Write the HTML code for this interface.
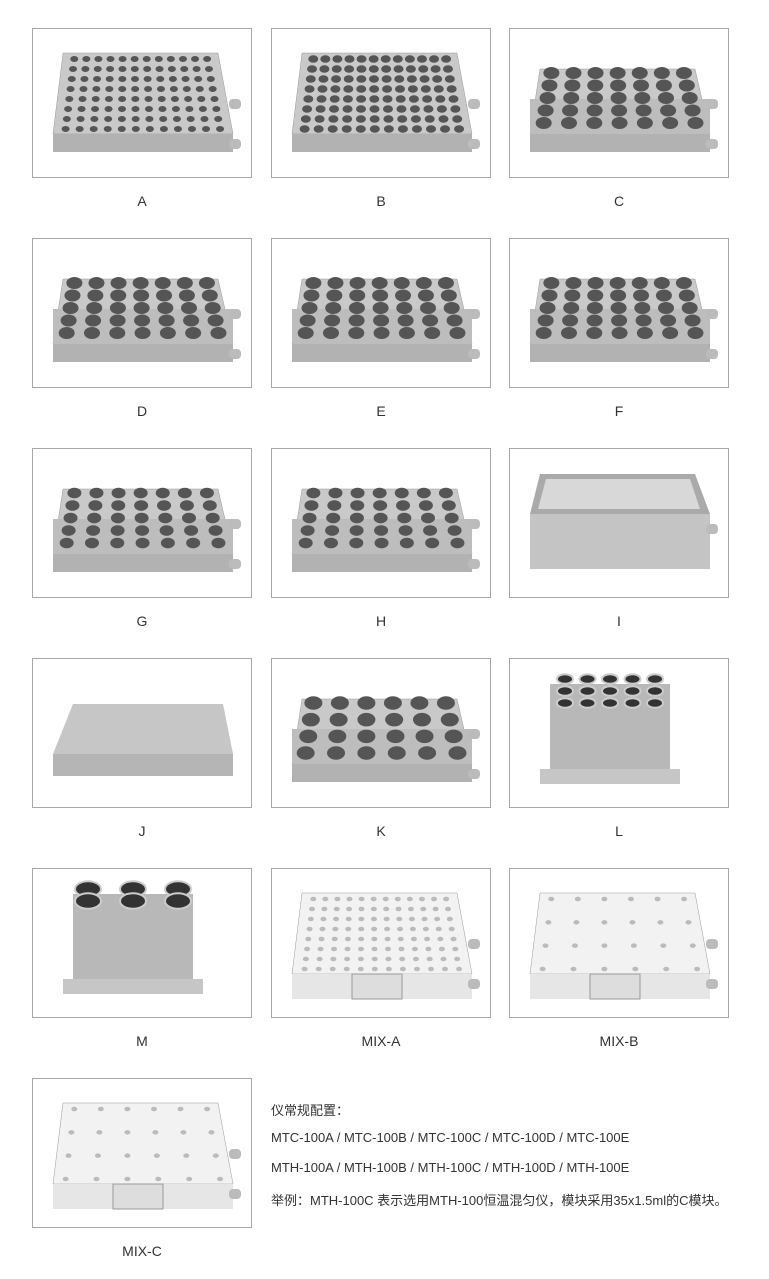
<!DOCTYPE html>
<html><head><meta charset="utf-8"><style>
body{margin:0;width:769px;height:1279px;background:#fff;position:relative;font-family:"Liberation Sans","Noto Sans CJK SC",sans-serif;color:#333}
.box{position:absolute;width:218px;height:148px;border:1px solid #a8a8a8;background:#fff}
.box svg{display:block}
.lab{position:absolute;width:220px;text-align:center;font-size:14px;color:#333}
.t{position:absolute;left:271px;font-size:13px;color:#333;white-space:nowrap}
</style></head><body>
<div id="root"></div>
<div class="t" style="top:1100px">仪常规配置：</div>
<div class="t" style="top:1130px">MTC-100A / MTC-100B / MTC-100C / MTC-100D / MTC-100E</div>
<div class="t" style="top:1160px">MTH-100A / MTH-100B / MTH-100C / MTH-100D / MTH-100E</div>
<div class="t" style="top:1190px">举例：MTH-100C 表示选用MTH-100恒温混匀仪，模块采用35x1.5ml的C模块。</div>
<script>
var items=[["A","p",12,8,4],["B","p",12,8,5],["C","c",7,5,8],["D","c",7,5,8],["E","c",7,5,8],["F","c",7,5,8],
["G","c",7,5,7],["H","c",7,5,7],["I","i"],["J","j"],["K","c",6,4,9],["L","l",5,3,8],
["M","l",3,2,13],["MIX-A","w",12,8,3],["MIX-B","w",6,4,3],["MIX-C","w",6,4,3]];
var xs=[32,271,509],ys=[28,238,448,658,868,1078];
var h='';
items.forEach(function(it,i){
 var x=xs[i%3],y=ys[Math.floor(i/3)],s='';
 var ty=it[1];
 if(ty=='p'||ty=='c'||ty=='w'){
  var fill=ty=='w'?'#f2f2f2':'#c9c9c9',front=ty=='w'?'#e6e6e6':'#b2b2b2',dot=ty=='w'?'#bbb':'#555';
  var tyT=ty=='c'?40:24;
  s+='<polygon points="30,'+tyT+' 185,'+tyT+' 200,105 20,105" fill="'+fill+'" stroke="#999" stroke-width="0.5"/>';
  s+='<rect x="20" y="105" width="180" height="'+(ty=='w'?25:18)+'" fill="'+front+'"/>';
  if(ty=='c')s+='<rect x="20" y="70" width="180" height="35" fill="#bdbdbd"/>';
  s+='<rect x="196" y="70" width="12" height="10" rx="4" fill="#bbb"/><rect x="196" y="110" width="12" height="10" rx="4" fill="#bbb"/>';
  var c=it[2],r=it[3],rad=it[4];
  for(var a=0;a<r;a++)for(var b=0;b<c;b++){
   var yy=(ty=='c'?44:30)+a*((ty=='c'?50:70)/(r-1||1));
   var t=(yy-tyT)/(105-tyT),l=30-10*t,rr=185+15*t;
   var xx=l+12+b*((rr-l-24)/(c-1||1));
   s+='<ellipse cx="'+xx+'" cy="'+yy+'" rx="'+rad+'" ry="'+(rad*0.75)+'" fill="'+dot+'"/>';
  }
  if(ty=='w')s+='<rect x="80" y="105" width="50" height="25" fill="#ddd" stroke="#999"/>';
 }else if(ty=='i'){
  s='<polygon points="30,25 185,25 200,65 20,65" fill="#aaa"/><polygon points="36,30 180,30 190,60 28,60" fill="#d8d8d8"/><rect x="20" y="65" width="180" height="55" fill="#c4c4c4"/><rect x="196" y="75" width="12" height="10" rx="4" fill="#bbb"/>';
 }else if(ty=='j'){
  s='<polygon points="40,45 190,45 200,95 20,95" fill="#c6c6c6"/><rect x="20" y="95" width="180" height="22" fill="#b5b5b5"/>';
 }else if(ty=='l'){
  s='<rect x="40" y="25" width="120" height="90" fill="#b8b8b8"/><rect x="30" y="110" width="140" height="15" fill="#c6c6c6"/>';
  var c=it[2],r=it[3],rad=it[4];
  for(var a=0;a<r;a++)for(var b=0;b<c;b++){s+='<ellipse cx="'+(55+b*(90/(c-1)))+'" cy="'+(20+a*12)+'" rx="'+rad+'" ry="'+(rad*0.6)+'" fill="#333" stroke="#ccc" stroke-width="2"/>';}
 }
 h+='<div class="box" style="left:'+x+'px;top:'+y+'px"><svg width="218" height="148">'+s+'</svg></div>';
 h+='<div class="lab" style="left:'+(x)+'px;top:'+(y+165)+'px">'+it[0]+'</div>';
});
document.getElementById('root').innerHTML=h;
</script>
</body></html>
